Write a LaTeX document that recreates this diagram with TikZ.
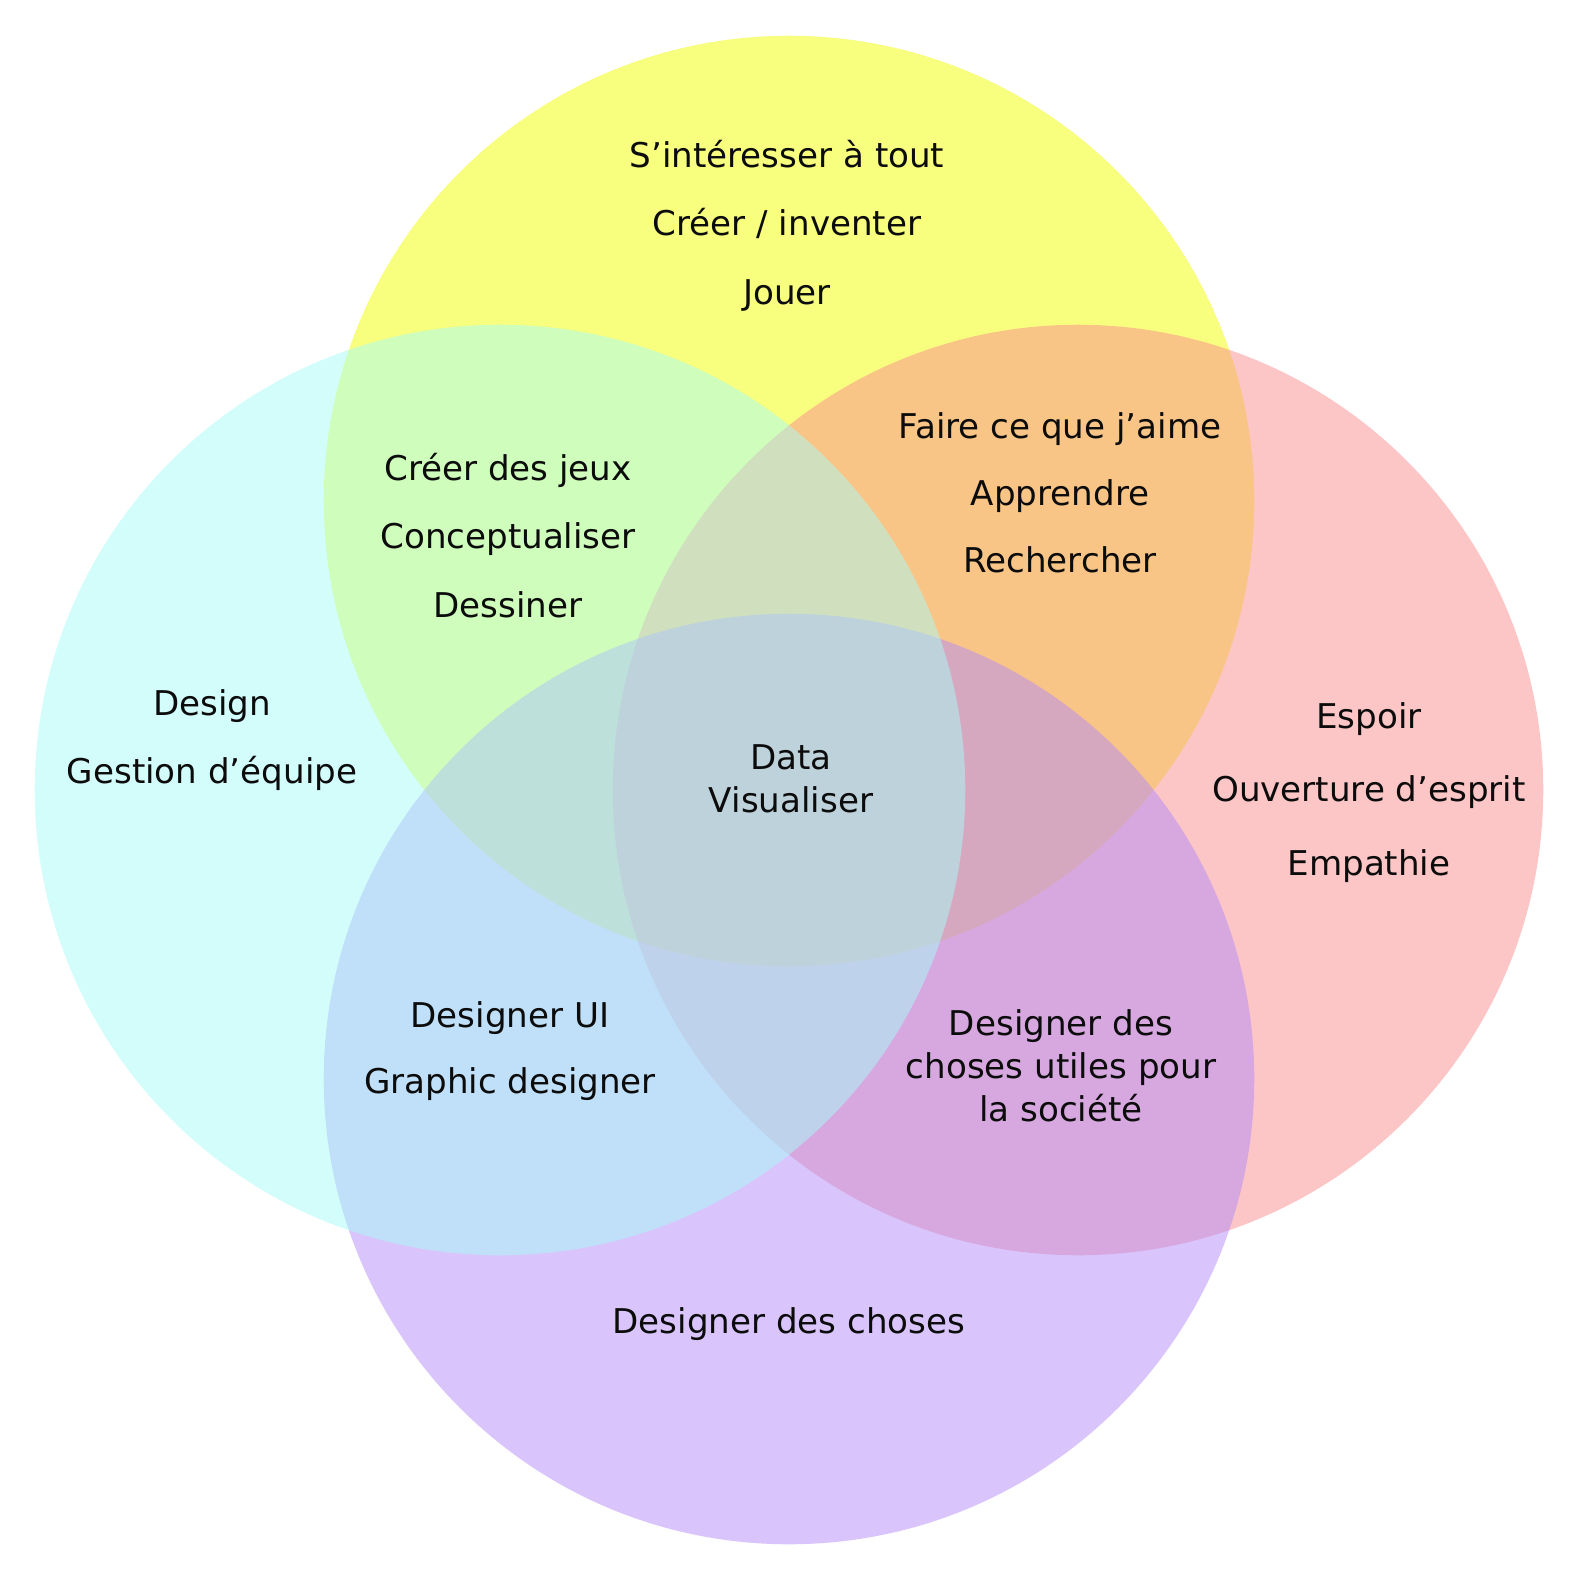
\documentclass[tikz,border=0pt]{standalone}
\usepackage{fontspec}
\setmainfont{DejaVu Sans}
\usepackage{tikz}

\definecolor{setY}{RGB}{243,255,0}
\definecolor{setP}{RGB}{251,140,142}
\definecolor{setV}{RGB}{180,140,250}
\definecolor{setC}{RGB}{168,252,248}
\definecolor{ink}{RGB}{12,12,12}

\begin{document}
\begin{tikzpicture}[x=0.01cm,y=-0.01cm]
					\tikzstyle{set}=[circle,inner sep=0pt,outer sep=0pt,minimum size=9.3cm,fill opacity=0.5]
					\tikzstyle{txt}=[text=ink,align=center,inner sep=0pt,anchor=base,font=\fontsize{9.7}{12.15}\selectfont]
					\path[use as bounding box,fill=white] (0,0) rectangle (1578,1578);
					% the four sets
					\node[set,fill=setY](sY) at (789,501) {};
					\node[set,fill=setP](sP) at (1078,790) {};
					\node[set,fill=setV](sV) at (789,1079) {};
					\node[set,fill=setC](sC) at (500,790) {};
					% yellow only
					\node[txt](y1) at (787,167) {S’intéresser à tout};
					\node[txt](y2) at (787,235) {Créer / inventer};
					\node[txt](y3) at (787,304) {Jouer};
					% yellow and cyan
					\node[txt](yc1) at (508,480) {Créer des jeux};
					\node[txt](yc2) at (508,548) {Conceptualiser};
					\node[txt](yc3) at (508,617) {Dessiner};
					% yellow and pink
					\node[txt](yp1) at (1060,438) {Faire ce que j’aime};
					\node[txt](yp2) at (1060,505) {Apprendre};
					\node[txt](yp3) at (1060,572) {Rechercher};
					% cyan only
					\node[txt](c1) at (212,715) {Design};
					\node[txt](c2) at (212,783) {Gestion d’équipe};
					% all of them (base = last line)
					\node[txt](all) at (791,812) {Data\\Visualiser};
					% pink only
					\node[txt](p1) at (1369,728) {Espoir};
					\node[txt](p2) at (1369,801) {Ouverture d’esprit};
					\node[txt](p3) at (1369,875) {Empathie};
					% cyan and violet
					\node[txt](cv1) at (510,1027) {Designer UI};
					\node[txt](cv2) at (510,1093) {Graphic designer};
					% pink and violet
					\node[txt](pv) at (1061,1121) {Designer des\\choses utiles pour\\la société};
					% violet only
					\node[txt](v1) at (789,1333) {Designer des choses};
				\end{tikzpicture}
\end{document}
